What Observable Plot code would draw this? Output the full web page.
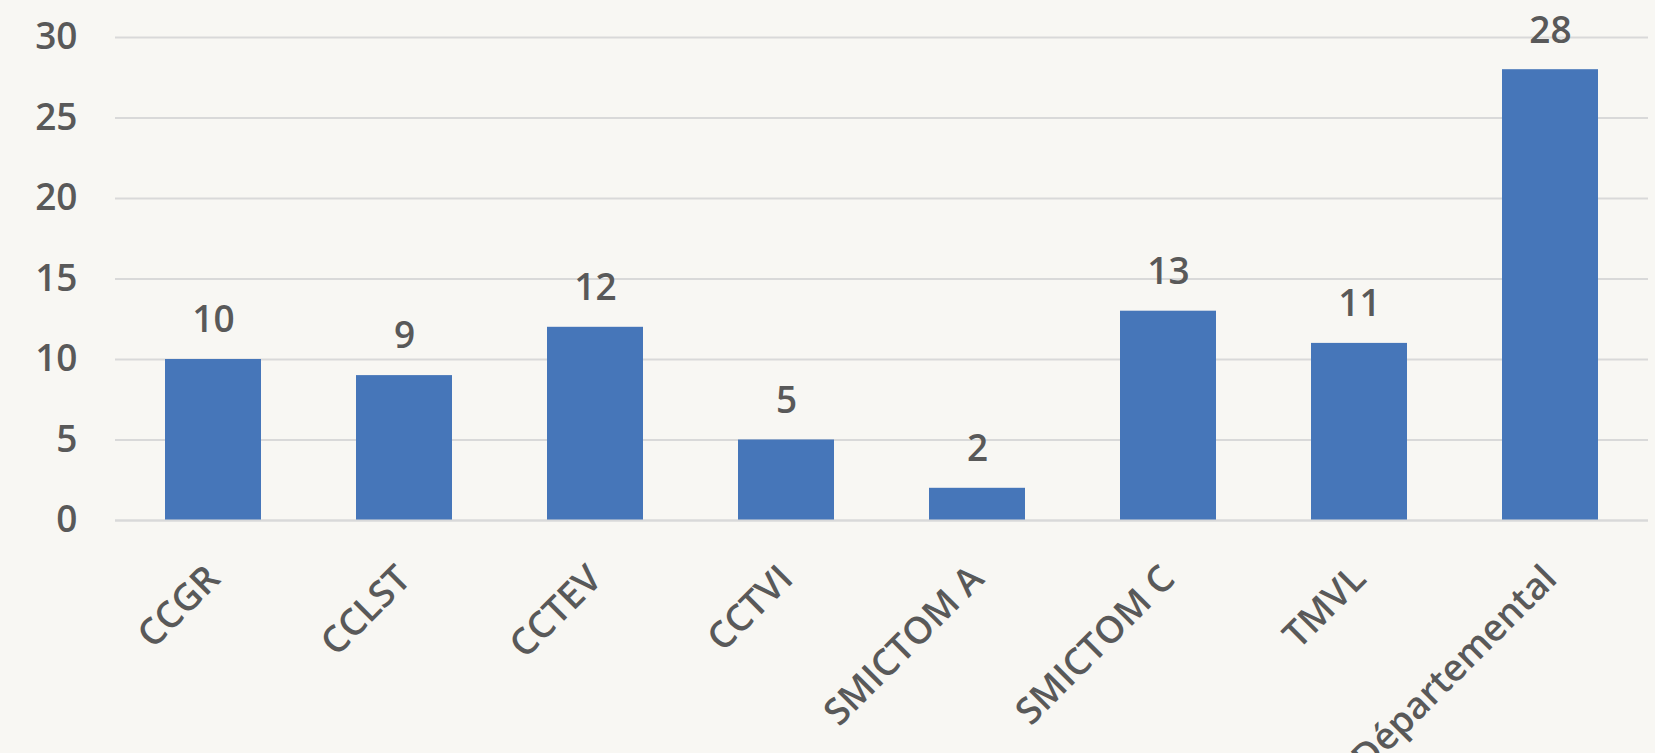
<!DOCTYPE html>
<html>
<head>
<meta charset="utf-8">
<script src="https://cdn.jsdelivr.net/npm/d3@7"></script>
<script src="https://cdn.jsdelivr.net/npm/@observablehq/plot@0.6"></script>
<style>
  html, body { margin: 0; padding: 0; background: #F8F7F3; }
  #chart svg { display: block; }
</style>
</head>
<body>
<div id="chart"></div>
<script>
const categories = ["CCGR", "CCLST", "CCTEV", "CCTVI", "SMICTOM A", "SMICTOM C", "TMVL", "Départemental"];
const values = [10, 9, 12, 5, 2, 13, 11, 28];
const yTicks = [0, 5, 10, 15, 20, 25, 30];

const data = categories.map((c, i) => ({category: c, value: values[i]}));

const chart = Plot.plot({
  width: 1655,
  height: 753,
  marginLeft: 115,
  marginRight: 7,
  marginTop: 37,
  marginBottom: 233,
  style: {background: "#F8F7F3", fontFamily: "'Open Sans', sans-serif", color: "#595959"},
  x: {domain: categories, paddingInner: 0.5, paddingOuter: 0.25, label: null},
  y: {domain: [0, 30], label: null},
  marks: [
    Plot.gridY(yTicks, {stroke: "#D9D9D9", strokeOpacity: 1, strokeWidth: 2}),
    Plot.barY(data, {x: "category", y: "value", fill: "#4676B9"}),
    Plot.ruleY([0], {stroke: "#D9D9D9", strokeWidth: 2}),
    Plot.text(data, {x: "category", y: "value", text: d => String(d.value), dy: -39, fill: "#595959", fontSize: 37, fontWeight: 600}),
    Plot.axisY(yTicks, {tickSize: 0, tickPadding: 38, fontSize: 37, fontWeight: 600, fill: "#595959", label: null}),
    Plot.axisX({tickSize: 0, tickRotate: -45, tickPadding: 52, fontSize: 37, fontWeight: 600, fill: "#595959", label: null})
  ]
});
document.getElementById("chart").appendChild(chart);
</script>
</body>
</html>
